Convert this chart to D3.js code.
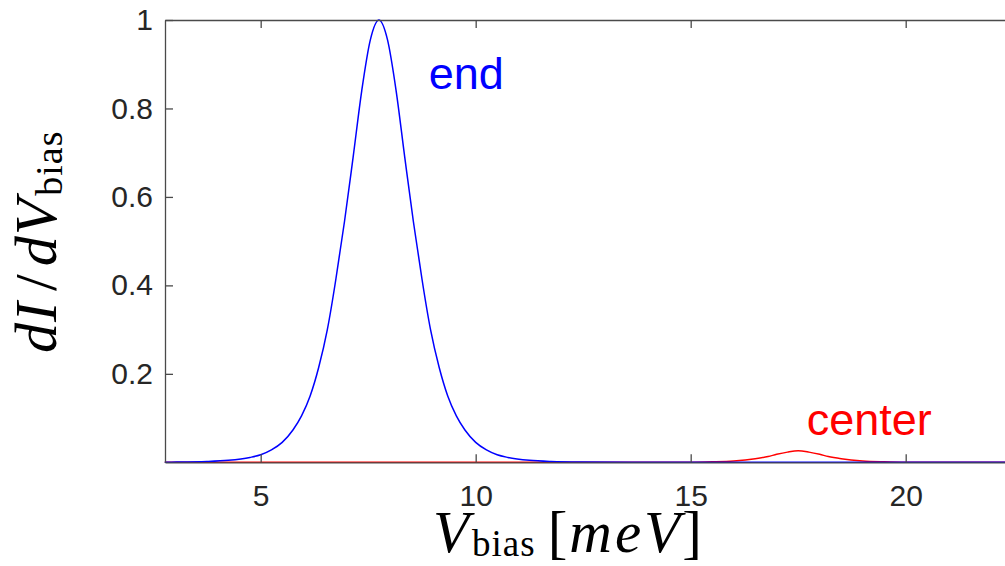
<!DOCTYPE html>
<html>
<head>
<meta charset="utf-8">
<script src="https://cdn.jsdelivr.net/npm/d3@7"></script>
<style>
  html, body { margin: 0; padding: 0; background: #ffffff; }
  svg { display: block; }
  .tick text { font-family: "Liberation Sans", Arial, Helvetica, sans-serif; font-size: 30px; fill: #262626; }
  .math { font-family: "Liberation Serif", "Times New Roman", serif; fill: #000; }
</style>
</head>
<body>
<script>
// Differential conductance dI/dV versus bias voltage, two probe positions.
const xTicks = [5, 10, 15, 20];
const yTicks = [0.2, 0.4, 0.6, 0.8, 1];

// "end" trace: V_bias [meV] and normalized dI/dV
const endV = [2.77, 3.05, 3.75, 4.25, 4.75, 5.0, 5.25, 5.5, 5.75, 5.95, 6.15, 6.35, 6.55, 6.75, 6.85, 6.95, 7.15, 7.35, 7.55, 7.75,
              7.95, 8.15, 8.35, 8.55, 8.65, 8.75, 8.95, 9.15, 9.35, 9.55, 9.75, 10.0, 10.25, 10.5, 10.75, 11.25, 11.75, 12.45, 13.75, 22.5];
const endG = [0.0003, 0.0005, 0.0018, 0.0045, 0.011, 0.017, 0.028, 0.045, 0.073, 0.105, 0.15, 0.215, 0.30, 0.415, 0.48, 0.545, 0.69, 0.84, 0.955, 1.0,
              0.955, 0.84, 0.69, 0.545, 0.48, 0.415, 0.30, 0.215, 0.15, 0.105, 0.073, 0.045, 0.028, 0.017, 0.011, 0.0045, 0.0018, 0.0005, 0.0, 0.0];

// "center" trace
const centerV = [2.77, 15.0, 15.5, 16.0, 16.5, 16.8, 17.0, 17.25, 17.5, 17.75, 18.0, 18.2, 18.5, 19.0, 19.5, 20.0, 22.5];
const centerG = [0.0, 0.0, 0.001, 0.003, 0.008, 0.013, 0.018, 0.023, 0.026, 0.023, 0.018, 0.013, 0.008, 0.003, 0.001, 0.0, 0.0];

const W = 1005, H = 566;
const svg = d3.select("body").append("svg").attr("width", W).attr("height", H);
svg.append("rect").attr("width", W).attr("height", H).attr("fill", "#fff");

const x = d3.scaleLinear().domain([2.775, 22.5]).range([165, 1013.2]);
const y = d3.scaleLinear().domain([0, 1]).range([462.3, 20]);

const line = d3.line().x(d => x(d[0])).y(d => y(d[1])).curve(d3.curveMonotoneX);

const plot = svg.append("g");
plot.append("path")
  .datum(d3.zip(centerV, centerG))
  .attr("d", line).attr("fill", "none").attr("stroke", "#ff0000").attr("stroke-width", 1.5);
plot.append("path")
  .datum(d3.zip(endV, endG))
  .attr("d", line).attr("fill", "none").attr("stroke", "#0000ff").attr("stroke-width", 1.5);

// Box axes with inward ticks
const axisColor = "#4a4a4a";
function styleAxis(g) {
  g.selectAll(".domain").attr("stroke", axisColor).attr("stroke-width", 1.3);
  g.selectAll(".tick line").attr("stroke", axisColor).attr("stroke-width", 1.3);
}
svg.append("g").attr("transform", `translate(0,${y(0)})`)
  .call(d3.axisBottom(x).tickValues(xTicks).tickSizeInner(-8).tickSizeOuter(0).tickPadding(22).tickFormat(d3.format("d")))
  .call(styleAxis)
  .call(g => g.selectAll(".tick text").attr("font-family", null).attr("font-size", null));
svg.append("g").attr("transform", `translate(0,${y(1)})`)
  .call(d3.axisTop(x).tickValues(xTicks).tickSizeInner(-8).tickSizeOuter(0).tickFormat(""))
  .call(styleAxis);
svg.append("g").attr("transform", `translate(${x.range()[0]},0)`)
  .call(d3.axisLeft(y).tickValues(yTicks).tickSizeInner(-8).tickSizeOuter(0).tickPadding(12).tickFormat(d3.format("~g")))
  .call(styleAxis)
  .call(g => g.selectAll(".tick text").attr("font-family", null).attr("font-size", null));
svg.append("g").attr("transform", `translate(${x.range()[1]},0)`)
  .call(d3.axisRight(y).tickValues(yTicks).tickSizeInner(-8).tickSizeOuter(0).tickFormat(""))
  .call(styleAxis);

// Curve annotations
svg.append("text").attr("x", x(8.91)).attr("y", y(0.844))
  .attr("font-family", "Liberation Sans, Arial, sans-serif").attr("font-size", 45)
  .attr("fill", "#0000ff").text("end");
svg.append("text").attr("x", x(17.7)).attr("y", y(0.062))
  .attr("font-family", "Liberation Sans, Arial, sans-serif").attr("font-size", 45)
  .attr("fill", "#ff0000").text("center");

// x-axis label: V_bias [meV]
const xl = svg.append("text").attr("class", "math").attr("x", 433).attr("y", 552).attr("font-size", 59);
xl.append("tspan").attr("font-style", "italic").text("V");
xl.append("tspan").attr("font-size", 37).attr("dx", 3).attr("dy", 4).attr("letter-spacing", 1).text("bias");
xl.append("tspan").attr("dy", -4).attr("dx", 12).text("[");
xl.append("tspan").attr("font-style", "italic").attr("letter-spacing", 3).attr("dx", 2).text("meV");
xl.append("tspan").attr("dx", -1).text("]");

// y-axis label: dI/dV_bias
const yl = svg.append("text").attr("class", "math")
  .attr("transform", "translate(56,353) rotate(-90)").attr("font-size", 60);
yl.append("tspan").attr("font-style", "italic").attr("letter-spacing", 1).text("dI");
yl.append("tspan").attr("dx", 10).text("/");
yl.append("tspan").attr("dx", 8).attr("font-style", "italic").attr("letter-spacing", 1).text("dV");
yl.append("tspan").attr("font-size", 38).attr("dx", 2).attr("dy", 6).attr("letter-spacing", 1).text("bias");
</script>
</body>
</html>
